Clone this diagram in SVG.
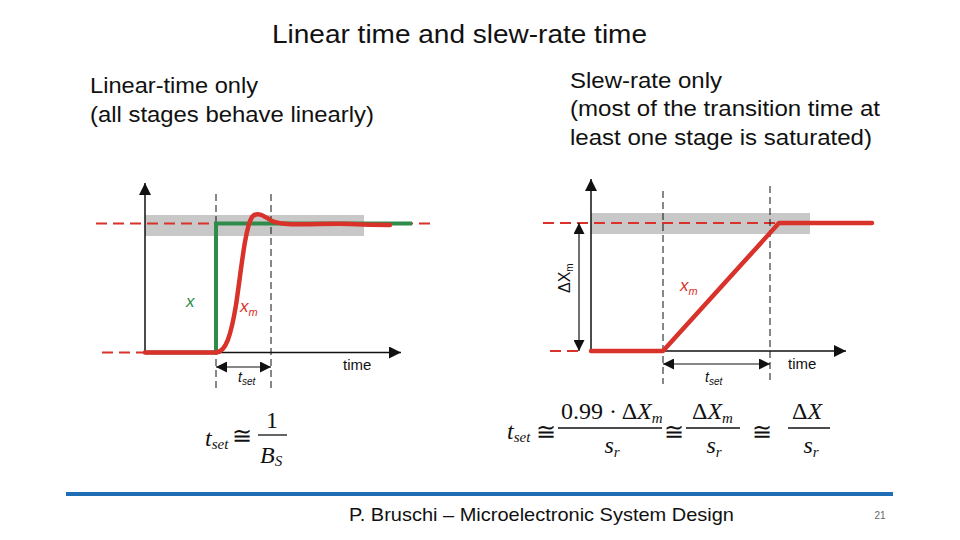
<svg xmlns="http://www.w3.org/2000/svg" width="960" height="540" viewBox="0 0 960 540">
<defs>
<marker id="ah" viewBox="0 0 10 10" refX="10" refY="5" markerWidth="11" markerHeight="11" markerUnits="userSpaceOnUse" orient="auto-start-reverse"><path d="M0,0 L10,5 L0,10 z" fill="#111"/></marker>
<marker id="ax" viewBox="0 0 12 12" refX="12" refY="6" markerWidth="12" markerHeight="12" markerUnits="userSpaceOnUse" orient="auto"><path d="M0,0 L12,6 L0,12 z" fill="#111"/></marker>
</defs>
<style>
.t{font-family:"Liberation Sans",Arial,sans-serif;fill:#111}
.m{font-family:"Liberation Serif","Times New Roman",serif;fill:#111}
.i{font-style:italic}
.axis{stroke:#111;stroke-width:1.5;fill:none}
.vd{stroke:#111;stroke-width:1;stroke-dasharray:7,4;fill:none}
.rd{stroke:#d8322b;stroke-width:2;stroke-dasharray:11,6;fill:none}
.red{stroke:#d8322b;stroke-width:4.5;fill:none;stroke-linejoin:round;stroke-linecap:round}
.grn{stroke:#2e8b4a;stroke-width:4;fill:none}
.band{fill:#c8c8c8}
.dim{stroke:#111;stroke-width:1.2;fill:none}
</style>
<rect width="960" height="540" fill="#fff"/>

<text class="t" x="272" y="43" font-size="25" textLength="375" lengthAdjust="spacingAndGlyphs">Linear time and slew-rate time</text>
<text class="t" x="90" y="93" font-size="22" textLength="168" lengthAdjust="spacingAndGlyphs">Linear-time only</text>
<text class="t" x="90" y="122" font-size="22" textLength="284" lengthAdjust="spacingAndGlyphs">(all stages behave linearly)</text>
<text class="t" x="570" y="87.5" font-size="22" textLength="152" lengthAdjust="spacingAndGlyphs">Slew-rate only</text>
<text class="t" x="570" y="116" font-size="22" textLength="310" lengthAdjust="spacingAndGlyphs">(most of the transition time at</text>
<text class="t" x="570" y="144.5" font-size="22" textLength="302" lengthAdjust="spacingAndGlyphs">least one stage is saturated)</text>

<g id="left-plot">
<rect class="band" x="145" y="215" width="219" height="21"/>
<line class="rd" x1="96" y1="223.5" x2="430" y2="223.5"/>
<line class="rd" x1="102" y1="352.5" x2="145" y2="352.5"/>
<line class="vd" x1="216" y1="194" x2="216" y2="389"/>
<line class="vd" x1="271" y1="194" x2="271" y2="389"/>
<line class="axis" x1="145" y1="352.5" x2="145" y2="183" marker-end="url(#ax)"/>
<line class="axis" x1="145" y1="352.5" x2="401" y2="352.5" marker-end="url(#ax)"/>
<path class="grn" d="M145,352.5 L216,352.5 L216,223.5 L412,223.5"/>
<path class="red" d="M145,352.5 L216,352.5 C226,352 231,335 236,305 C241,272 245,228 252,217 C257,211 264,216 272,221 C285,227 320,223 350,224 C370,225 380,225 390,225"/>
<line class="dim" x1="216" y1="367" x2="271" y2="367" marker-start="url(#ah)" marker-end="url(#ah)"/>
<text class="t" x="343" y="370" font-size="15">time</text>
<text class="t i" x="238" y="382" font-size="14">t<tspan font-size="10" dy="3">set</tspan></text>
<text class="t i" x="186" y="307" font-size="17" style="fill:#2e8b4a">x</text>
<text class="t i" x="240" y="312" font-size="17" style="fill:#d8322b">x<tspan font-size="11" dy="4">m</tspan></text>
</g>

<g id="right-plot">
<rect class="band" x="591" y="213" width="219" height="21"/>
<line class="rd" x1="543" y1="223" x2="778" y2="223"/>
<line class="rd" x1="550" y1="351" x2="584" y2="351"/>
<line class="vd" x1="663" y1="191" x2="663" y2="384"/>
<line class="vd" x1="770" y1="186" x2="770" y2="384"/>
<line class="axis" x1="591" y1="351" x2="591" y2="179" marker-end="url(#ax)"/>
<line class="axis" x1="591" y1="351" x2="846" y2="351" marker-end="url(#ax)"/>
<path class="red" d="M591,351 L663,351 L779,223 L872,223"/>
<line class="dim" x1="579" y1="223" x2="579" y2="351" marker-start="url(#ah)" marker-end="url(#ah)"/>
<line class="dim" x1="663" y1="364" x2="770" y2="364" marker-start="url(#ah)" marker-end="url(#ah)"/>
<text class="t" transform="translate(570,293) rotate(-90)" font-size="16">ΔX<tspan font-size="10" dy="3">m</tspan></text>
<text class="t" x="788" y="369" font-size="15">time</text>
<text class="t i" x="705" y="382" font-size="14">t<tspan font-size="10" dy="3">set</tspan></text>
<text class="t i" x="680" y="291" font-size="17" style="fill:#d8322b">x<tspan font-size="11" dy="4">m</tspan></text>
</g>

<g id="formula-left">
<text class="m i" x="205" y="446" font-size="24">t<tspan font-size="15" dy="3">set</tspan></text>
<text class="m" x="242" y="444" font-size="24" text-anchor="middle">≅</text>
<text class="m" x="272" y="428" font-size="24" text-anchor="middle">1</text>
<line x1="258" y1="435" x2="287" y2="435" stroke="#111" stroke-width="1.3"/>
<text class="m i" x="260" y="463" font-size="24">B<tspan font-size="15" dy="3">S</tspan></text>
</g>

<g id="formula-right">
<text class="m i" x="507" y="439" font-size="24">t<tspan font-size="15" dy="3">set</tspan></text>
<text class="m" x="546" y="440" font-size="24" text-anchor="middle">≅</text>
<text class="m" x="561" y="419" font-size="24">0.99 · Δ<tspan class="i">X</tspan><tspan class="i" font-size="15" dy="4">m</tspan></text>
<line x1="558" y1="428" x2="662" y2="428" stroke="#111" stroke-width="1.3"/>
<text class="m i" x="612" y="453" font-size="24" text-anchor="middle">s<tspan font-size="15" dy="4">r</tspan></text>
<text class="m" x="674" y="440" font-size="24" text-anchor="middle">≅</text>
<text class="m" x="692" y="419" font-size="24">Δ<tspan class="i">X</tspan><tspan class="i" font-size="15" dy="4">m</tspan></text>
<line x1="686" y1="428" x2="740" y2="428" stroke="#111" stroke-width="1.3"/>
<text class="m i" x="714" y="453" font-size="24" text-anchor="middle">s<tspan font-size="15" dy="4">r</tspan></text>
<text class="m" x="762" y="440" font-size="24" text-anchor="middle">≅</text>
<text class="m" x="792" y="419" font-size="24">Δ<tspan class="i">X</tspan></text>
<line x1="788" y1="428" x2="830" y2="428" stroke="#111" stroke-width="1.3"/>
<text class="m i" x="811" y="453" font-size="24" text-anchor="middle">s<tspan font-size="15" dy="4">r</tspan></text>
</g>

<rect x="66" y="492" width="827" height="4" fill="#1f6db4"/>
<text class="t" x="349" y="521" font-size="19" textLength="385" lengthAdjust="spacingAndGlyphs">P. Bruschi – Microelectronic System Design</text>
<text class="t" x="880" y="519" font-size="10" text-anchor="middle" style="fill:#666">21</text>
</svg>
